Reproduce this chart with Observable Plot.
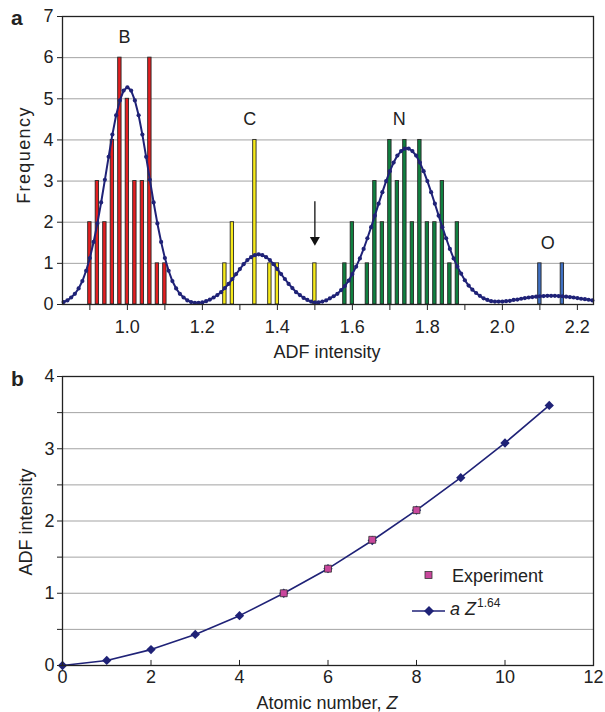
<!DOCTYPE html>
<html>
<head>
<meta charset="utf-8">
<script src="https://cdn.jsdelivr.net/npm/d3@7"></script>
<script src="https://cdn.jsdelivr.net/npm/@observablehq/plot@0.6"></script>
<style>
  body { margin: 0; background: #fff; }
  #wrap { position: relative; width: 605px; height: 712px; background: #fff;
          font-family: "Liberation Sans", Arial, Helvetica, sans-serif; color: #222; }
  #pa { position: absolute; left: 0; top: 0; }
  #pb { position: absolute; left: 0; top: 360px; }
  #ov { position: absolute; left: 0; top: 0; pointer-events: none; }
  #ov text { font-family: "Liberation Sans", Arial, Helvetica, sans-serif; fill: #222; }
</style>
</head>
<body>
<div id="wrap">
  <div id="pa"></div>
  <div id="pb"></div>
  <svg id="ov" width="605" height="712">
    <text x="11" y="25" font-size="21" font-weight="bold">a</text>
    <text x="11" y="386" font-size="21" font-weight="bold">b</text>
    <text transform="translate(29.5,155) rotate(-90)" text-anchor="middle" font-size="18" letter-spacing="1.4">Frequency</text>
    <text x="327" y="358" text-anchor="middle" font-size="18">ADF intensity</text>
    <text transform="translate(31.5,522) rotate(-90)" text-anchor="middle" font-size="18">ADF intensity</text>
    <text x="327" y="709" text-anchor="middle" font-size="18">Atomic number, <tspan font-style="italic">Z</tspan></text>
    <!-- legend of panel b -->
    <rect x="425" y="571.5" width="7" height="7" fill="#c9479c" stroke="#333" stroke-width="0.8"></rect>
    <text x="452" y="582" font-size="18">Experiment</text>
    <line x1="412" y1="611" x2="445" y2="611" stroke="#1f2277" stroke-width="1.6"></line>
    <path d="M429,606 L434,611 L429,616 L424,611 Z" fill="#1f2277"></path>
    <text x="450" y="615" font-size="18" font-style="italic">a Z<tspan font-style="normal" font-size="12" dy="-8" dx="1">1.64</tspan></text>
  </svg>
</div>
<script>
// ---------- Panel a: histogram data ----------
const binsB = [0.90, 0.92, 0.94, 0.96, 0.98, 1.00, 1.02, 1.04, 1.06, 1.08, 1.10];
const freqB = [2, 3, 2, 4, 6, 5, 3, 3, 6, 1, 1];
const binsC = [1.26, 1.28, 1.34, 1.38, 1.40, 1.50];
const freqC = [1, 2, 4, 1, 1, 1];
const binsN = [1.58, 1.60, 1.64, 1.66, 1.68, 1.70, 1.72, 1.74, 1.76, 1.78, 1.80, 1.82, 1.84, 1.86, 1.88];
const freqN = [1, 2, 1, 3, 2, 4, 3, 4, 2, 4, 2, 2, 3, 1, 2];
const binsO = [2.10, 2.16];
const freqO = [1, 1];

// fitted curve
const fitX = [0.83,0.84,0.85,0.86,0.87,0.88,0.89,0.90,0.91,0.92,0.93,0.94,0.95,0.96,0.97,0.98,0.99,
  1.00,1.01,1.02,1.03,1.04,1.05,1.06,1.07,1.08,1.09,1.10,1.11,1.12,1.13,1.14,1.15,1.16,1.17,1.18,1.19,
  1.20,1.21,1.22,1.23,1.24,1.25,1.26,1.27,1.28,1.29,1.30,1.31,1.32,1.33,1.34,1.35,1.36,1.37,1.38,1.39,
  1.40,1.41,1.42,1.43,1.44,1.45,1.46,1.47,1.48,1.49,1.50,1.51,1.52,1.53,1.54,1.55,1.56,1.57,1.58,1.59,
  1.60,1.61,1.62,1.63,1.64,1.65,1.66,1.67,1.68,1.69,1.70,1.71,1.72,1.73,1.74,1.75,1.76,1.77,1.78,1.79,
  1.80,1.81,1.82,1.83,1.84,1.85,1.86,1.87,1.88,1.89,1.90,1.91,1.92,1.93,1.94,1.95,1.96,1.97,1.98,1.99,
  2.00,2.01,2.02,2.03,2.04,2.05,2.06,2.07,2.08,2.09,2.10,2.11,2.12,2.13,2.14,2.15,2.16,2.17,2.18,2.19,
  2.20,2.21,2.22,2.23,2.24];
const fitY = [0.06,0.10,0.17,0.26,0.39,0.57,0.82,1.13,1.52,1.97,2.48,3.03,3.59,4.13,4.60,4.96,5.20,
  5.28,5.20,4.96,4.60,4.13,3.59,3.03,2.48,1.97,1.52,1.13,0.82,0.57,0.39,0.26,0.17,0.10,0.06,0.04,0.04,
  0.05,0.08,0.12,0.17,0.23,0.30,0.40,0.50,0.62,0.74,0.86,0.98,1.08,1.15,1.20,1.22,1.20,1.15,1.08,0.98,
  0.86,0.74,0.62,0.50,0.40,0.30,0.23,0.16,0.11,0.07,0.05,0.05,0.07,0.10,0.15,0.20,0.26,0.35,0.45,0.58,
  0.74,0.92,1.12,1.35,1.61,1.88,2.16,2.45,2.73,3.00,3.24,3.45,3.62,3.73,3.79,3.79,3.73,3.62,3.45,3.24,
  3.00,2.73,2.45,2.16,1.88,1.61,1.35,1.12,0.92,0.75,0.59,0.46,0.36,0.28,0.21,0.15,0.11,0.08,0.07,0.07,
  0.07,0.08,0.09,0.11,0.12,0.14,0.155,0.17,0.18,0.19,0.20,0.205,0.21,0.21,0.21,0.205,0.20,0.19,0.18,0.17,
  0.155,0.14,0.13,0.115,0.10];

const peakNames = ["B", "C", "N", "O"];
const peakNameX = [0.992, 1.326, 1.725, 2.121];
const peakNameY = [6.5, 4.5, 4.5, 1.49];

const arrowX = [1.50];
const arrowTop = [2.5];
const arrowStemEnd = [1.62];
const arrowHead = [1.57];

const xTicksA = [0.9, 1.0, 1.1, 1.2, 1.3, 1.4, 1.5, 1.6, 1.7, 1.8, 1.9, 2.0, 2.1, 2.2];
const xLabelsA = ["1.0", "1.2", "1.4", "1.6", "1.8", "2.0", "2.2"];
const yTicksA = [0, 1, 2, 3, 4, 5, 6, 7];
const gridA = [1, 2, 3, 4, 5, 6];

// ---------- Panel b data ----------
const zValues = [0, 1, 2, 3, 4, 5, 6, 7, 8, 9, 10, 11];
const fitIntensity = [0, 0.07, 0.22, 0.43, 0.69, 1.00, 1.34, 1.73, 2.15, 2.60, 3.08, 3.60];
const expZ = [5, 6, 7, 8];
const expIntensity = [1.00, 1.34, 1.74, 2.15];
const xTicksB = [0, 2, 4, 6, 8, 10, 12];
const yTicksB = [0, 0.5, 1, 1.5, 2, 2.5, 3, 3.5, 4];
const gridB = [0.5, 1, 1.5, 2, 2.5, 3, 3.5];

// ---------- styles ----------
const FONT = '"Liberation Sans", Arial, Helvetica, sans-serif';
const NAVY = "#1f2277";
const COLORS = { B: "#e41e20", C: "#f6ea1a", N: "#0f8140", O: "#3e70c3" };
const halfW = 0.0045;

const rows = (xs, ys) => xs.map((x, i) => ({ x, y: ys[i] }));
const barMark = (bins, freq, fill) =>
  Plot.rect(rows(bins, freq), {
    x1: d => d.x - halfW, x2: d => d.x + halfW, y1: () => 0, y2: "y",
    fill, stroke: "#262626", strokeWidth: 0.9
  });

const fitRows = rows(fitX, fitY);
const labelRows = peakNames.map((t, i) => ({ t, x: peakNameX[i], y: peakNameY[i] }));

const pa = Plot.plot({
  width: 605, height: 360,
  marginLeft: 62, marginRight: 12, marginTop: 16, marginBottom: 56,
  style: { fontFamily: FONT, fontSize: "18px", color: "#222", background: "white", overflow: "visible" },
  x: { domain: [0.827, 2.243] },
  y: { domain: [0, 7] },
  marks: [
    Plot.ruleY(gridA, { y: d => d, stroke: "#a3a3a3", strokeWidth: 1 }),
    barMark(binsB, freqB, COLORS.B),
    barMark(binsC, freqC, COLORS.C),
    barMark(binsN, freqN, COLORS.N),
    barMark(binsO, freqO, COLORS.O),
    Plot.line(fitRows, { x: "x", y: "y", stroke: NAVY, strokeWidth: 2 }),
    Plot.dot(fitRows, { x: "x", y: "y", r: 2.1, fill: NAVY }),
    Plot.ruleX(arrowX, { x: d => d, y1: () => arrowTop[0], y2: () => arrowStemEnd[0], stroke: "#111", strokeWidth: 1.3 }),
    Plot.dot(arrowX, { x: d => d, y: () => arrowHead[0], symbol: "triangle", rotate: 180, r: 3.7, fill: "#111" }),
    Plot.text(labelRows, { x: "x", y: "y", text: "t", fontSize: 18, fill: "#222" }),
    Plot.axisX({ ticks: xTicksA, tickFormat: d => { const s = d.toFixed(1); return xLabelsA.includes(s) ? s : ""; },
                 tickSize: 6, tickPadding: 10, fontSize: 18, label: null }),
    Plot.axisY({ ticks: yTicksA, tickFormat: d => String(d), tickSize: 5, tickPadding: 4, fontSize: 18, label: null }),
    Plot.frame({ stroke: "#222", strokeWidth: 1.3 })
  ]
});
document.getElementById("pa").appendChild(pa);

const fitRowsB = rows(zValues, fitIntensity);
const expRows = rows(expZ, expIntensity);

const pb = Plot.plot({
  width: 605, height: 352,
  marginLeft: 62, marginRight: 12, marginTop: 16, marginBottom: 47,
  style: { fontFamily: FONT, fontSize: "18px", color: "#222", background: "white", overflow: "visible" },
  x: { domain: [0, 12] },
  y: { domain: [0, 4] },
  marks: [
    Plot.ruleY(gridB, { y: d => d, stroke: "#a3a3a3", strokeWidth: 1 }),
    Plot.ruleX(xTicksB, { x: d => d, y1: () => 0, y2: () => 0.07, stroke: "#222", strokeWidth: 1 }),
    Plot.line(fitRowsB, { x: "x", y: "y", stroke: NAVY, strokeWidth: 1.6 }),
    Plot.dot(fitRowsB, { x: "x", y: "y", symbol: "diamond2", r: 4.2, fill: NAVY }),
    Plot.dot(expRows, { x: "x", y: "y", symbol: "square", r: 3.9, fill: "#c9479c", stroke: "#333", strokeWidth: 0.8 }),
    Plot.axisX({ ticks: xTicksB, tickSize: 0, tickPadding: 5, fontSize: 18, label: null }),
    Plot.axisY({ ticks: yTicksB, tickFormat: d => Number.isInteger(d) ? String(d) : "", tickSize: 5, tickPadding: 3, fontSize: 18, label: null }),
    Plot.frame({ stroke: "#222", strokeWidth: 1.3 })
  ]
});
document.getElementById("pb").appendChild(pb);
</script>
</body>
</html>
